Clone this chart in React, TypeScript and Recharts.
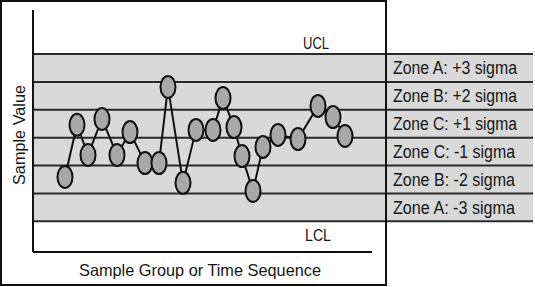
import { ComposedChart, Line, XAxis, YAxis, ReferenceArea, ReferenceLine } from "recharts";

// sample positions along the time axis and their values in sigma units
const SAMPLE_X = [6.4, 8.8, 11.0, 13.8, 16.8, 19.4, 22.4, 25.2, 27.0, 30.0, 32.6, 36.0, 38.0, 40.2, 41.8, 44.0, 46.0, 49.0, 53.0, 57.0, 60.0, 62.4];
const SAMPLE_Y = [-1.41, 0.46, -0.62, 0.67, -0.62, 0.2, -0.91, -0.91, 1.82, -1.62, 0.28, 0.28, 1.42, 0.38, -0.66, -1.91, -0.33, 0.1, -0.05, 1.14, 0.74, 0.06];

const ZONE_LABELS = ["Zone A: +3 sigma", "Zone B: +2 sigma", "Zone C: +1 sigma", "Zone C: -1 sigma", "Zone B: -2 sigma", "Zone A: -3 sigma"];
const ZONE_TOP = [3, 2, 1, 0, -1, -2];
const ZONE_BOTTOM = [2, 1, 0, -1, -2, -3];
const SIGMA_LINES = [3, 2, 1, 0, -1, -2, -3];

const Y_MIN = -4.1;
const Y_MAX = 4.58;
const X_AXIS_END = 67.8;
const LABEL_COL_START = 70.6;

const FONT = '"Liberation Sans", Arial, sans-serif';
const TEXT = "#161616";

const data = SAMPLE_X.map((x, i) => ({ x, y: SAMPLE_Y[i] }));

function EllipseDot(props: any) {
  const { cx, cy, index } = props;
  if (cx == null || cy == null) return null;
  return <ellipse key={`dot-${index}`} cx={cx} cy={cy} rx={7.5} ry={11} fill="#a8a8a8" stroke="#111" strokeWidth={2} />;
}

// squeezed text to look like a condensed face
function ZoneText(props: any) {
  const { viewBox, value } = props;
  if (!viewBox) return null;
  const w = value.includes("-") ? 122 : 124;
  return (
    <text
      x={viewBox.x + 7}
      y={viewBox.y + viewBox.height / 2 + 6.5}
      fontFamily={FONT}
      fontSize={18}
      fill={TEXT}
      textLength={w}
      lengthAdjust="spacingAndGlyphs"
    >
      {value}
    </text>
  );
}

export default function App() {
  return (
    <div style={{ position: "fixed", left: 0, top: 0, width: 535, height: 287, background: "#fff", fontFamily: FONT }}>
      <ComposedChart width={535} height={287} data={data} margin={{ top: 10, right: 2, bottom: 35, left: 33 }}>
        <XAxis dataKey="x" type="number" domain={[0, 100]} hide />
        <YAxis type="number" domain={[Y_MIN, Y_MAX]} hide />
        <ReferenceArea x1={0} x2={100} y1={-3} y2={3} fill="#d9d9d9" fillOpacity={1} stroke="none" />
        {ZONE_LABELS.map((label, i) => (
          <ReferenceArea
            key={label}
            x1={LABEL_COL_START}
            x2={100}
            y1={ZONE_BOTTOM[i]}
            y2={ZONE_TOP[i]}
            fill="none"
            stroke="none"
            label={<ZoneText value={label} />}
          />
        ))}
        {SIGMA_LINES.map((v) => (
          <ReferenceLine key={v} y={v} stroke="#2a2a2a" strokeWidth={2} />
        ))}
        <ReferenceLine x={0} stroke="#111" strokeWidth={2} />
        <ReferenceLine segment={[{ x: 0, y: Y_MIN }, { x: X_AXIS_END, y: Y_MIN }]} stroke="#111" strokeWidth={2} />
        <Line
          dataKey="y"
          type="linear"
          stroke="#111"
          strokeWidth={2}
          dot={EllipseDot}
          activeDot={false}
          isAnimationActive={false}
        />
      </ComposedChart>
      <svg width={535} height={287} style={{ position: "absolute", left: 0, top: 0, pointerEvents: "none" }}>
        <rect x={1} y={1} width={385} height={284} fill="none" stroke="#111" strokeWidth={2} />
        <g fontFamily={FONT} fill={TEXT}>
          <text x={303} y={49} fontSize={16} textLength={26} lengthAdjust="spacingAndGlyphs">UCL</text>
          <text x={305} y={241} fontSize={16} textLength={26} lengthAdjust="spacingAndGlyphs">LCL</text>
          <text x={79} y={276} fontSize={16.5} textLength={242} lengthAdjust="spacingAndGlyphs">Sample Group or Time Sequence</text>
          <text
            x={85}
            y={25}
            fontSize={16.5}
            textLength={100}
            lengthAdjust="spacingAndGlyphs"
            transform="rotate(-90 0 0) translate(-270 0)"
          >
            Sample Value
          </text>
        </g>
      </svg>
    </div>
  );
}
